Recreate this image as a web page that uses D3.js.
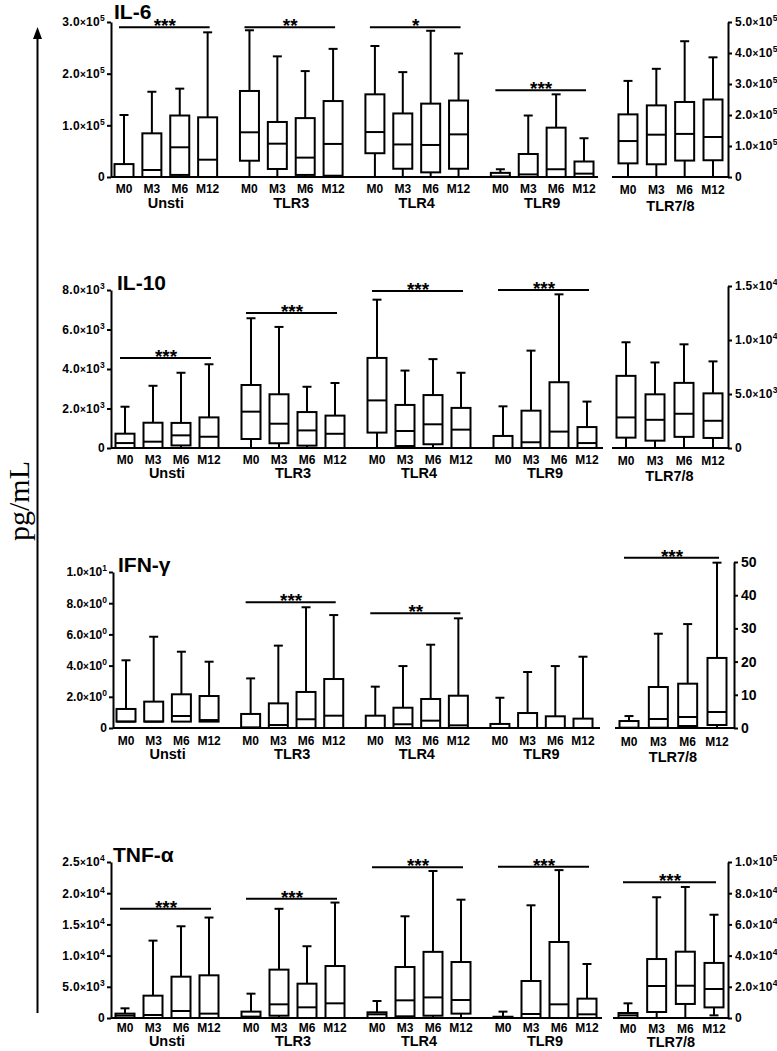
<!DOCTYPE html>
<html>
<head>
<meta charset="utf-8">
<script src="https://cdn.jsdelivr.net/npm/d3@7"></script>
<style>
body { margin: 0; background: #fff; }
svg { display: block; }
text { font-family: "Liberation Sans", Arial, sans-serif; font-weight: bold; fill: #000; }
</style>
</head>
<body>
<svg id="chart" width="777" height="1051"></svg>
<script>
var groups = ['Unsti', 'TLR3', 'TLR4', 'TLR9', 'TLR7/8'];
var months = ['M0', 'M3', 'M6', 'M12'];

// each box: [min, q1, median, q3, max], 4 months per group
var il6 = [
	[[0, 0, 0, 25000, 120000], [0, 0, 13500, 84500, 165000], [0, 4000, 57500, 119000, 171000], [0, 0, 33500, 115500, 280000]],
	[[0, 31500, 86500, 166500, 284000], [0, 15500, 64500, 106500, 233500], [0, 4000, 37500, 114000, 205000], [0, 2500, 64000, 147000, 248000]],
	[[0, 46000, 87000, 160000, 253500], [0, 16000, 63000, 123000, 203000], [0, 9000, 62000, 142000, 283000], [0, 16000, 82500, 148000, 239000]],
	[[0, 0, 1000, 8000, 15000], [0, 0, 5000, 44500, 119000], [0, 0, 15000, 95500, 160000], [0, 0, 6500, 30000, 75000]],
	[[0, 44000, 116000, 202000, 310000], [0, 41000, 136500, 231000, 349000], [0, 53000, 139000, 242000, 438000], [0, 54000, 129000, 250000, 386000]]
];
var il10 = [
	[[0, 0, 250, 725, 2090], [0, 0, 320, 1280, 3150], [0, 130, 640, 1270, 3810], [0, 0, 570, 1550, 4240]],
	[[0, 455, 1840, 3190, 6570], [0, 240, 1230, 2720, 6130], [0, 120, 890, 1820, 3100], [0, 0, 720, 1640, 3290]],
	[[0, 780, 2410, 4560, 7510], [0, 100, 860, 2180, 3920], [0, 190, 1200, 2680, 4500], [0, 0, 930, 2030, 3810]],
	[[0, 0, 0, 610, 2110], [0, 0, 290, 1890, 4930], [0, 0, 830, 3330, 7780], [0, 0, 250, 1060, 2350]],
	[[0, 960, 2830, 6680, 9790], [0, 680, 2610, 4970, 7920], [0, 1030, 3170, 6030, 9600], [0, 930, 2520, 5060, 8020]]
];
var ifng = [
	[[0.41, 0.41, 0.41, 1.22, 4.34], [0.41, 0.41, 0.41, 1.69, 5.85], [0.41, 0.41, 0.77, 2.16, 4.89], [0.41, 0.41, 0.51, 2.05, 4.25]],
	[[0, 0, 0.04, 0.9, 3.18], [0, 0, 0.19, 1.58, 5.28], [0, 0, 0.56, 2.31, 7.74], [0, 0, 0.79, 3.14, 7.24]],
	[[0, 0, 0, 0.79, 2.65], [0, 0, 0.24, 1.3, 3.97], [0, 0, 0.47, 1.86, 5.34], [0, 0, 0.17, 2.07, 7.03]],
	[[0, 0, 0, 0.26, 1.94], [0, 0, 0, 0.96, 3.59], [0, 0, 0, 0.75, 3.97], [0, 0, 0, 0.6, 4.57]],
	[[0, 0, 0.1, 2.1, 3.6], [0, 0.1, 2.71, 12.35, 28.4], [0, 0.6, 3.31, 13.35, 31.3], [0, 0.9, 4.82, 21.1, 49.8]]
];
var tnfa = [
	[[0, 0, 380, 700, 1550], [0, 0, 480, 3580, 12400], [0, 0, 1120, 6620, 14700], [0, 0, 700, 6840, 16100]],
	[[0, 0, 220, 1020, 3900], [0, 370, 2190, 7750, 17500], [0, 0, 1710, 5500, 11500], [0, 0, 2350, 8330, 18500]],
	[[0, 0, 590, 910, 2720], [0, 270, 2830, 8170, 16300], [0, 370, 3300, 10600, 23560], [0, 700, 2880, 8970, 18960]],
	[[0, 0, 50, 200, 1020], [0, 0, 640, 5930, 18060], [0, 0, 2190, 12180, 23700], [0, 0, 590, 3100, 8650]],
	[[0, 0, 1700, 3200, 9400], [0, 3850, 20500, 37800, 77400], [0, 9000, 20700, 42500, 84000], [1700, 6800, 18600, 35300, 66200]]
];

// significance bars: group, level in axis units, stars
var il6Sig = [['Unsti', 290000, '***'], ['TLR3', 290000, '**'], ['TLR4', 290000, '*'], ['TLR9', 168000, '***']];
var il10Sig = [['Unsti', 4560, '***'], ['TLR3', 6840, '***'], ['TLR4', 7950, '***'], ['TLR9', 8000, '***']];
var ifngSig = [['TLR3', 8.06, '***'], ['TLR4', 7.35, '**'], ['TLR7/8', 51.3, '***']];
var tnfaSig = [['Unsti', 17500, '***'], ['TLR3', 19100, '***'], ['TLR4', 24150, '***'], ['TLR9', 24250, '***'], ['TLR7/8', 87000, '***']];

var il6LeftTicks = [0, 100000, 200000, 300000];
var il6RightTicks = [0, 100000, 200000, 300000, 400000, 500000];
var il10LeftTicks = [0, 2000, 4000, 6000, 8000];
var il10RightTicks = [0, 5000, 10000, 15000];
var ifngLeftTicks = [0, 2, 4, 6, 8, 10];
var ifngRightTicks = [0, 10, 20, 30, 40, 50];
var tnfaLeftTicks = [0, 5000, 10000, 15000, 20000, 25000];
var tnfaRightTicks = [0, 20000, 40000, 60000, 80000, 100000];

var panels = [
	{title: 'IL-6', data: il6, sig: il6Sig, lt: il6LeftTicks, rt: il6RightTicks, plain: false,
		zero: 177, top: 22, rtop: 22, ax: 111, xr: [124, 584], xr2: [628, 713], rax: 728, bEnd: 598, bStart: 612, tx: 114, ty: 19, labDy: 16, grpDy: 31, lastDy: 3},
	{title: 'IL-10', data: il10, sig: il10Sig, lt: il10LeftTicks, rt: il10RightTicks, plain: false,
		zero: 448, top: 290, rtop: 286, ax: 111, xr: [125, 587], xr2: [626, 713], rax: 728, bEnd: 603, bStart: 612, tx: 117, ty: 290, labDy: 16, grpDy: 30, lastDy: 3},
	{title: 'IFN-\u03b3', data: ifng, sig: ifngSig, lt: ifngLeftTicks, rt: ifngRightTicks, plain: true,
		zero: 728, top: 572, rtop: 562, ax: 113, xr: [126, 583], xr2: [629, 717], rax: 734, bEnd: 600, bStart: 615, tx: 118, ty: 572, labDy: 17, grpDy: 31, lastDy: 3},
	{title: 'TNF-\u03b1', data: tnfa, sig: tnfaSig, lt: tnfaLeftTicks, rt: tnfaRightTicks, plain: false,
		zero: 1018, top: 862, rtop: 862, ax: 111, xr: [125, 587], xr2: [628, 714], rax: 728, bEnd: 602, bStart: 613, tx: 113, ty: 862, labDy: 14, grpDy: 28, lastDy: 1}
];

var BOX_W = 19, CAP_W = 9, SW = 2;

var svg = d3.select('#chart');

function sciLabel(text, v)
{
	text.text(null);
	if (v === 0) { text.text('0'); return; }
	var e = Math.floor(Math.log10(v) + 1e-9),
		m = v / Math.pow(10, e);
	text.append('tspan').text(m.toFixed(1));
	text.append('tspan').attr('font-size', 10).text('\u00d7');
	text.append('tspan').text('10');
	text.append('tspan').attr('font-size', 8.5).attr('dy', -5).text(e);
}

panels.forEach(function(p)
{
	var g = svg.append('g');

	var yL = d3.scaleLinear().domain([0, d3.max(p.lt)]).range([p.zero, p.top]),
		yR = d3.scaleLinear().domain([0, d3.max(p.rt)]).range([p.zero, p.rtop]),
		slot = d3.scaleLinear().domain([0, 3 * 4.5 + 3]).range(p.xr),
		slot2 = d3.scalePoint().domain(months).range(p.xr2);

	function xOf(gi, mi) { return gi < 4 ? slot(gi * 4.5 + mi) : slot2(months[mi]); }
	function yOf(gi) { return gi < 4 ? yL : yR; }

	// axes
	var left = g.append('g')
		.attr('transform', 'translate(' + p.ax + ',0)')
		.call(d3.axisLeft(yL).tickValues(p.lt).tickSize(4).tickSizeOuter(0).tickPadding(2));
	left.selectAll('text').each(function(v){ sciLabel(d3.select(this), v); });

	var right = g.append('g')
		.attr('transform', 'translate(' + p.rax + ',0)')
		.call(d3.axisRight(yR).tickValues(p.rt).tickSize(4).tickSizeOuter(0).tickPadding(3));
	if (!p.plain)
		right.selectAll('text').each(function(v){ sciLabel(d3.select(this), v); });

	g.selectAll('.domain, .tick line').attr('stroke', '#000').attr('stroke-width', SW);
	left.attr('font-family', null).attr('font-size', 12);
	right.attr('font-family', null).attr('font-size', p.plain ? 14 : 12);
	g.selectAll('.tick text').attr('fill', '#000').attr('letter-spacing', p.plain ? 0 : 0.3);

	// baselines
	g.append('line')
		.attr('x1', p.ax).attr('x2', p.bEnd)
		.attr('y1', p.zero).attr('y2', p.zero)
		.attr('stroke', '#000').attr('stroke-width', SW);
	g.append('line')
		.attr('x1', p.bStart).attr('x2', p.rax)
		.attr('y1', p.zero).attr('y2', p.zero)
		.attr('stroke', '#000').attr('stroke-width', SW);

	// title
	g.append('text')
		.attr('x', p.tx).attr('y', p.ty)
		.attr('font-size', 21)
		.text(p.title);

	// boxes
	var items = [];
	p.data.forEach(function(grp, gi){
		grp.forEach(function(v, mi){ items.push({gi: gi, mi: mi, v: v}); });
	});

	var box = g.selectAll('g.box').data(items)
		.enter()
		.append('g')
		.attr('class', 'box')
		.attr('transform', function(d){ return 'translate(' + xOf(d.gi, d.mi) + ',0)'; })
		.attr('stroke', '#000')
		.attr('stroke-width', SW)
		.attr('fill', 'none');

	box.append('line')
		.attr('y1', function(d){ return yOf(d.gi)(d.v[3]); })
		.attr('y2', function(d){ return yOf(d.gi)(d.v[4]); });
	box.append('line')
		.attr('x1', -CAP_W / 2).attr('x2', CAP_W / 2)
		.attr('y1', function(d){ return yOf(d.gi)(d.v[4]); })
		.attr('y2', function(d){ return yOf(d.gi)(d.v[4]); });

	var low = box.filter(function(d){ return d.v[0] < d.v[1]; });
	low.append('line')
		.attr('y1', function(d){ return yOf(d.gi)(d.v[1]); })
		.attr('y2', function(d){ return yOf(d.gi)(d.v[0]); });
	low.append('line')
		.attr('x1', -CAP_W / 2).attr('x2', CAP_W / 2)
		.attr('y1', function(d){ return yOf(d.gi)(d.v[0]); })
		.attr('y2', function(d){ return yOf(d.gi)(d.v[0]); });

	box.append('rect')
		.attr('x', -BOX_W / 2)
		.attr('width', BOX_W)
		.attr('y', function(d){ return yOf(d.gi)(d.v[3]); })
		.attr('height', function(d){ return yOf(d.gi)(d.v[1]) - yOf(d.gi)(d.v[3]); })
		.attr('fill', '#fff');

	box.append('line')
		.attr('x1', -BOX_W / 2).attr('x2', BOX_W / 2)
		.attr('y1', function(d){ return yOf(d.gi)(d.v[2]); })
		.attr('y2', function(d){ return yOf(d.gi)(d.v[2]); });

	// month labels
	g.selectAll('text.month').data(items)
		.enter()
		.append('text')
		.attr('class', 'month')
		.attr('x', function(d){ return xOf(d.gi, d.mi); })
		.attr('y', function(d){ return p.zero + p.labDy + (d.gi === 4 ? 1 : 0); })
		.attr('text-anchor', 'middle')
		.attr('font-size', 12)
		.text(function(d){ return months[d.mi]; });

	// group labels
	g.selectAll('text.group').data(groups)
		.enter()
		.append('text')
		.attr('class', 'group')
		.attr('x', function(d, gi){ return (xOf(gi, 0) + xOf(gi, 3)) / 2; })
		.attr('y', function(d, gi){ return p.zero + p.grpDy + (gi === 4 ? p.lastDy : 0); })
		.attr('text-anchor', 'middle')
		.attr('font-size', 14.5)
		.text(function(d){ return d; });

	// significance
	var sig = g.selectAll('g.sig').data(p.sig)
		.enter()
		.append('g')
		.attr('class', 'sig');

	sig.append('line')
		.attr('x1', function(d){ return xOf(groups.indexOf(d[0]), 0) - 5; })
		.attr('x2', function(d){ return xOf(groups.indexOf(d[0]), 3) + 2; })
		.attr('y1', function(d){ return yOf(groups.indexOf(d[0]))(d[1]); })
		.attr('y2', function(d){ return yOf(groups.indexOf(d[0]))(d[1]); })
		.attr('stroke', '#000').attr('stroke-width', SW);

	sig.append('text')
		.attr('x', function(d){ var gi = groups.indexOf(d[0]); return (xOf(gi, 0) + xOf(gi, 3)) / 2 - 1; })
		.attr('y', function(d){ return yOf(groups.indexOf(d[0]))(d[1]) + 5; })
		.attr('text-anchor', 'middle')
		.attr('font-size', 19)
		.text(function(d){ return d[2]; });
});

// shared y label and arrow
svg.append('line')
	.attr('x1', 37.5).attr('x2', 37.5)
	.attr('y1', 1013).attr('y2', 36)
	.attr('stroke', '#000').attr('stroke-width', SW);
svg.append('path')
	.attr('d', 'M37.5,27L33,39L42,39Z')
	.attr('fill', '#000');

svg.append('text')
	.attr('transform', 'translate(28.5,541) rotate(-90)')
	.style('font-family', '"Liberation Serif", "Times New Roman", serif')
	.style('font-weight', 'normal')
	.attr('font-size', 30)
	.text('pg/mL');
</script>
</body>
</html>
